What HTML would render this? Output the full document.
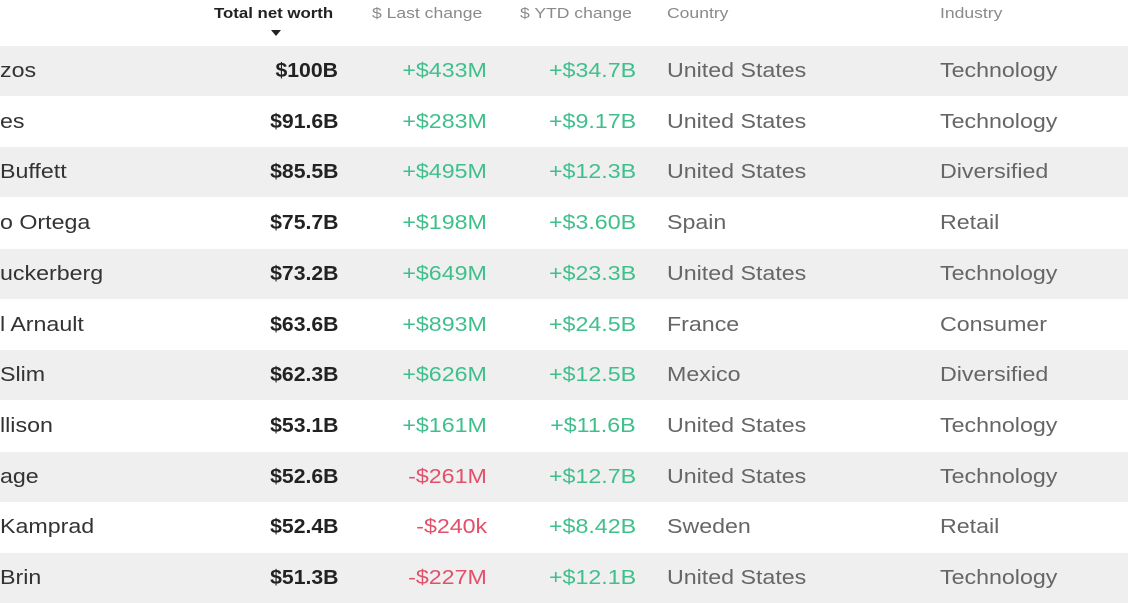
<!DOCTYPE html>
<html><head><meta charset="utf-8"><style>
html,body{margin:0;padding:0;width:1128px;height:591px;overflow:hidden;background:#fff;font-family:"Liberation Sans",sans-serif;}
.hdr{position:absolute;top:5px;font-size:15px;color:#8a8a8a;transform:scaleX(1.17);transform-origin:left;}
.row{position:absolute;left:0;width:1128px;height:50px;}
.row.g{background:#efefef;}
.c{position:absolute;top:0;line-height:50px;font-size:20px;white-space:nowrap;transform:scaleX(1.16);transform-origin:left;}
.name{color:#333;}
.nw{color:#222;font-weight:bold;transform:scaleX(1.06);transform-origin:right;}
.pos,.neg{transform-origin:right;}
.pos{color:#3fbf8c;}
.neg{color:#e2506a;}
.txt{color:#666;}
</style></head><body>
<div class="hdr" style="left:214px;color:#222;font-weight:bold;transform:scaleX(1.12);">Total net worth</div>
<div style="position:absolute;left:271px;top:30px;width:0;height:0;border-left:5px solid transparent;border-right:5px solid transparent;border-top:6px solid #222;"></div>
<div class="hdr" style="left:372px;">$ Last change</div>
<div class="hdr" style="left:520px;">$ YTD change</div>
<div class="hdr" style="left:667px;">Country</div>
<div class="hdr" style="left:940px;">Industry</div>
<div id="tbl"></div>
<script>
const names=["zos","es","Buffett","o Ortega","uckerberg","l Arnault","Slim","llison","age","Kamprad","Brin"];
const worth=["$100B","$91.6B","$85.5B","$75.7B","$73.2B","$63.6B","$62.3B","$53.1B","$52.6B","$52.4B","$51.3B"];
const lastChg=["+$433M","+$283M","+$495M","+$198M","+$649M","+$893M","+$626M","+$161M","-$261M","-$240k","-$227M"];
const ytdChg=["+$34.7B","+$9.17B","+$12.3B","+$3.60B","+$23.3B","+$24.5B","+$12.5B","+$11.6B","+$12.7B","+$8.42B","+$12.1B"];
const country=["United States","United States","United States","Spain","United States","France","Mexico","United States","United States","Sweden","United States"];
const industry=["Technology","Technology","Diversified","Retail","Technology","Consumer","Diversified","Technology","Technology","Retail","Technology"];
const tbl=document.getElementById('tbl');
function cell(row,cls,text,style,nm){
  const d=document.createElement('div');
  d.className='c '+cls;d.textContent=text;d.style.cssText=style;
  
  
  row.appendChild(d);
}
names.forEach((n,i)=>{
  const r=document.createElement('div');
  r.className='row'+(i%2===0?' g':'');
  r.style.top=(46+i*50.7)+'px';
  
  
  cell(r,'name',n,'left:0px;','name-cell');
  cell(r,'nw',worth[i],'right:790px;','net-worth-cell');
  cell(r,lastChg[i][0]==='-'?'neg':'pos',lastChg[i],'right:641px;','last-change-cell');
  cell(r,ytdChg[i][0]==='-'?'neg':'pos',ytdChg[i],'right:492px;','ytd-change-cell');
  cell(r,'txt',country[i],'left:667px;','country-cell');
  cell(r,'txt',industry[i],'left:940px;','industry-cell');
  tbl.appendChild(r);
});
</script>
</body></html>
